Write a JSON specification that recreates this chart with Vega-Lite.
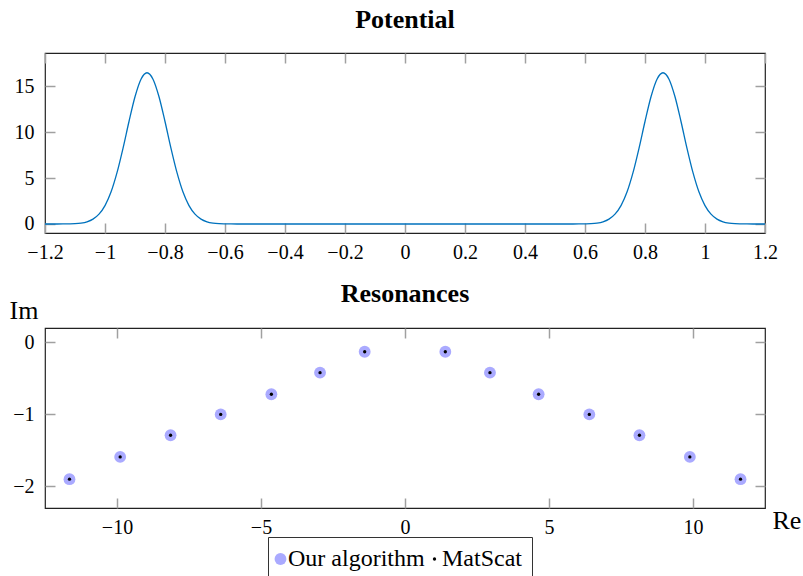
{
  "$schema": "https://vega.github.io/schema/vega-lite/v6.json",
  "padding": {"left": 8, "top": 6, "right": 4, "bottom": 0},
  "spacing": 95,
  "bounds": "flush",
  "resolve": {"scale": {"x": "independent", "y": "independent", "color": "independent", "size": "independent"}, "legend": {"color": "independent", "size": "independent"}},
  "config": {
    "font": "Liberation Serif",
    "view": {"stroke": "#222222", "strokeWidth": 1.2},
    "axis": {
      "grid": false, "domain": false,
      "tickSize": -10, "tickColor": "#a0a0a0", "tickWidth": 1.5,
      "labelFont": "Liberation Serif", "labelFontSize": 20, "labelColor": "black",
      "labelFlush": false, "labelOverlap": false, "labelBound": false,
      "titleFont": "Liberation Serif", "titleFontWeight": "normal", "titleFontSize": 26, "titleColor": "black"
    },
    "axisX": {"labelPadding": 19},
    "axisY": {"labelPadding": 21},
    "title": {"font": "Liberation Serif", "fontSize": 26, "fontWeight": "bold", "color": "black", "baseline": "alphabetic", "offset": 19, "anchor": "middle"}
  },
  "vconcat": [
    {
      "title": {"text": "Potential", "offset": 19},
      "width": 720, "height": 180,
      "data": {"values": [
        {"x": -1.2, "v": 0}, {"x": -1.16, "v": 0}, {"x": -1.14, "v": 0.003}, {"x": -1.12, "v": 0.012},
        {"x": -1.1, "v": 0.035}, {"x": -1.08, "v": 0.1}, {"x": -1.06, "v": 0.24}, {"x": -1.04, "v": 0.53},
        {"x": -1.02, "v": 1.07}, {"x": -1.0, "v": 2.0}, {"x": -0.98, "v": 3.47}, {"x": -0.96, "v": 5.58},
        {"x": -0.94, "v": 8.23}, {"x": -0.92, "v": 11.15}, {"x": -0.9, "v": 13.84}, {"x": -0.88, "v": 15.75},
        {"x": -0.86, "v": 16.45}, {"x": -0.84, "v": 15.75}, {"x": -0.82, "v": 13.84}, {"x": -0.8, "v": 11.15},
        {"x": -0.78, "v": 8.23}, {"x": -0.76, "v": 5.58}, {"x": -0.74, "v": 3.47}, {"x": -0.72, "v": 2.0},
        {"x": -0.7, "v": 1.07}, {"x": -0.68, "v": 0.53}, {"x": -0.66, "v": 0.24}, {"x": -0.64, "v": 0.1},
        {"x": -0.62, "v": 0.035}, {"x": -0.6, "v": 0.012}, {"x": -0.58, "v": 0.003}, {"x": -0.56, "v": 0},
        {"x": 0, "v": 0},
        {"x": 0.56, "v": 0}, {"x": 0.58, "v": 0.003}, {"x": 0.6, "v": 0.012}, {"x": 0.62, "v": 0.035},
        {"x": 0.64, "v": 0.1}, {"x": 0.66, "v": 0.24}, {"x": 0.68, "v": 0.53}, {"x": 0.7, "v": 1.07},
        {"x": 0.72, "v": 2.0}, {"x": 0.74, "v": 3.47}, {"x": 0.76, "v": 5.58}, {"x": 0.78, "v": 8.23},
        {"x": 0.8, "v": 11.15}, {"x": 0.82, "v": 13.84}, {"x": 0.84, "v": 15.75}, {"x": 0.86, "v": 16.45},
        {"x": 0.88, "v": 15.75}, {"x": 0.9, "v": 13.84}, {"x": 0.92, "v": 11.15}, {"x": 0.94, "v": 8.23},
        {"x": 0.96, "v": 5.58}, {"x": 0.98, "v": 3.47}, {"x": 1.0, "v": 2.0}, {"x": 1.02, "v": 1.07},
        {"x": 1.04, "v": 0.53}, {"x": 1.06, "v": 0.24}, {"x": 1.08, "v": 0.1}, {"x": 1.1, "v": 0.035},
        {"x": 1.12, "v": 0.012}, {"x": 1.14, "v": 0.003}, {"x": 1.16, "v": 0}, {"x": 1.2, "v": 0}
      ]},
      "layer": [
        {
          "mark": {"type": "line", "color": "#0072BD", "strokeWidth": 1.3, "interpolate": "monotone"},
          "encoding": {
            "x": {"field": "x", "type": "quantitative", "scale": {"domain": [-1.2, 1.2], "nice": false, "zero": false},
                  "axis": {"orient": "bottom", "title": null, "format": "~g", "values": [-1.2, -1, -0.8, -0.6, -0.4, -0.2, 0, 0.2, 0.4, 0.6, 0.8, 1, 1.2]}},
            "y": {"field": "v", "type": "quantitative", "scale": {"domain": [-0.98, 18.6], "nice": false, "zero": false},
                  "axis": {"orient": "left", "title": null, "format": "d", "values": [0, 5, 10, 15]}}
          }
        },
        {
          "mark": {"type": "line", "opacity": 0},
          "encoding": {
            "x": {"field": "x", "type": "quantitative", "axis": {"orient": "top", "title": null, "labels": false, "values": [-1.2, -1, -0.8, -0.6, -0.4, -0.2, 0, 0.2, 0.4, 0.6, 0.8, 1, 1.2]}},
            "y": {"field": "v", "type": "quantitative", "axis": {"orient": "right", "title": null, "labels": false, "values": [0, 5, 10, 15]}}
          }
        }
      ],
      "resolve": {"axis": {"x": "independent", "y": "independent"}}
    },
    {
      "title": {"text": "Resonances", "offset": -9},
      "width": 720, "height": 180,
      "data": {"values": [
        {"series": "Our algorithm", "re": -11.65, "im": -1.9},
        {"series": "Our algorithm", "re": -9.89, "im": -1.59},
        {"series": "Our algorithm", "re": -8.14, "im": -1.29},
        {"series": "Our algorithm", "re": -6.4, "im": -1.0},
        {"series": "Our algorithm", "re": -4.64, "im": -0.72},
        {"series": "Our algorithm", "re": -2.95, "im": -0.42},
        {"series": "Our algorithm", "re": -1.4, "im": -0.13},
        {"series": "Our algorithm", "re": 1.4, "im": -0.13},
        {"series": "Our algorithm", "re": 2.95, "im": -0.42},
        {"series": "Our algorithm", "re": 4.64, "im": -0.72},
        {"series": "Our algorithm", "re": 6.4, "im": -1.0},
        {"series": "Our algorithm", "re": 8.14, "im": -1.29},
        {"series": "Our algorithm", "re": 9.89, "im": -1.59},
        {"series": "Our algorithm", "re": 11.65, "im": -1.9},
        {"series": "MatScat", "re": -11.65, "im": -1.9},
        {"series": "MatScat", "re": -9.89, "im": -1.59},
        {"series": "MatScat", "re": -8.14, "im": -1.29},
        {"series": "MatScat", "re": -6.4, "im": -1.0},
        {"series": "MatScat", "re": -4.64, "im": -0.72},
        {"series": "MatScat", "re": -2.95, "im": -0.42},
        {"series": "MatScat", "re": -1.4, "im": -0.13},
        {"series": "MatScat", "re": 1.4, "im": -0.13},
        {"series": "MatScat", "re": 2.95, "im": -0.42},
        {"series": "MatScat", "re": 4.64, "im": -0.72},
        {"series": "MatScat", "re": 6.4, "im": -1.0},
        {"series": "MatScat", "re": 8.14, "im": -1.29},
        {"series": "MatScat", "re": 9.89, "im": -1.59},
        {"series": "MatScat", "re": 11.65, "im": -1.9}
      ]},
      "layer": [
        {
          "mark": {"type": "point", "filled": true, "opacity": 1, "strokeWidth": 0},
          "encoding": {
            "x": {"field": "re", "type": "quantitative", "scale": {"domain": [-12.5, 12.5], "nice": false, "zero": false},
                  "axis": {"orient": "bottom", "title": "Re", "titleX": 727, "titleY": 20, "titleAlign": "left", "titleBaseline": "alphabetic", "format": "d", "values": [-10, -5, 0, 5, 10]}},
            "y": {"field": "im", "type": "quantitative", "scale": {"domain": [-2.3, 0.2], "nice": false, "zero": false},
                  "axis": {"orient": "left", "title": "Im", "titleAngle": 0, "titleX": -36, "titleY": -9.5, "titleAlign": "left", "titleBaseline": "alphabetic", "format": "d", "values": [-2, -1, 0]}},
            "color": {"field": "series", "type": "nominal", "scale": {"domain": ["Our algorithm", "MatScat"], "range": ["#aaaaff", "#000000"]},
                      "legend": {"orient": "none", "legendX": 223, "legendY": 209, "direction": "horizontal", "title": null,
                                 "strokeColor": "#333333", "padding": 10, "labelFont": "Liberation Serif", "labelFontSize": 24, "labelColor": "black",
                                 "columnPadding": 7, "labelOffset": -4.5, "symbolOffset": -9.5, "symbolType": "circle", "symbolStrokeWidth": 0}},
            "size": {"field": "series", "type": "nominal", "scale": {"domain": ["Our algorithm", "MatScat"], "range": [140, 11]},
                     "legend": {"orient": "none", "legendX": 223, "legendY": 209, "direction": "horizontal", "title": null,
                                "strokeColor": "#333333", "padding": 10, "labelFont": "Liberation Serif", "labelFontSize": 24, "labelColor": "black",
                                "columnPadding": 7, "labelOffset": -4.5, "symbolOffset": -9.5, "symbolType": "circle", "symbolStrokeWidth": 0}}
          }
        },
        {
          "mark": {"type": "point", "opacity": 0},
          "encoding": {
            "x": {"field": "re", "type": "quantitative", "axis": {"orient": "top", "title": null, "labels": false, "values": [-10, -5, 0, 5, 10]}},
            "y": {"field": "im", "type": "quantitative", "axis": {"orient": "right", "title": null, "labels": false, "values": [-2, -1, 0]}}
          }
        }
      ],
      "resolve": {"axis": {"x": "independent", "y": "independent"}}
    }
  ]
}
